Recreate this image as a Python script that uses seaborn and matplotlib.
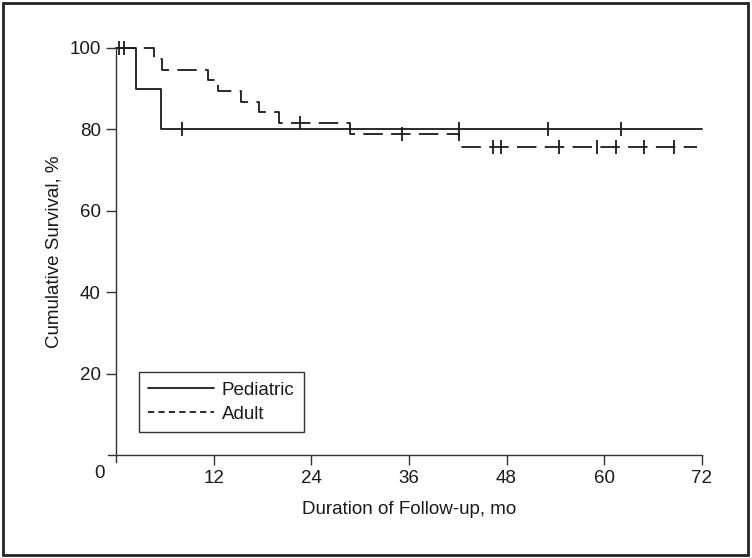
import numpy as np
import pandas as pd
import seaborn as sns
import matplotlib.pyplot as plt
from matplotlib.lines import Line2D
from matplotlib.patches import Rectangle

# step curves (time in months, survival in %)
ped_time = [0, 2.5, 5.5, 72]
ped_surv = [100, 90, 80, 80]
ped_cens = [8.1, 42.1, 53.1, 62.1]

adult_time = [0, 4.7, 5.7, 11.3, 12.5, 15.4, 17.6, 20.0, 28.7, 42.1, 71.4]
adult_surv = [100, 97.4, 94.7, 92.1, 89.5, 86.8, 84.2, 81.6, 78.9, 75.8, 75.8]
adult_cens = [0.4, 1.0, 22.6, 35.2, 46.4, 47.3, 54.5, 59.1, 61.5, 64.9, 68.6]

x_ticks = [12, 24, 36, 48, 60, 72]
y_ticks = [20, 40, 60, 80, 100]


def surv_at(times, survs, t):
    i = np.searchsorted(times, t, side='right') - 1
    return np.asarray(survs)[i]


df_ped = pd.DataFrame({'time': ped_time, 'surv': ped_surv})
df_adult = pd.DataFrame({'time': adult_time, 'surv': adult_surv})
df_ped_c = pd.DataFrame({'time': ped_cens, 'surv': surv_at(ped_time, ped_surv, ped_cens)})
df_adult_c = pd.DataFrame({'time': adult_cens, 'surv': surv_at(adult_time, adult_surv, adult_cens)})

sns.set_theme(style="white")
plt.rcParams['font.family'] = ['Liberation Sans', 'DejaVu Sans']
plt.rcParams['lines.scale_dashes'] = False

fig = plt.figure(figsize=(7.52, 5.58), dpi=100)
ax = fig.add_axes([0.1436, 0.172, 0.7895, 0.742])

lw = 1.3
ink = '#1a1a1a'
sns.lineplot(data=df_ped, x='time', y='surv', ax=ax, color=ink, lw=lw,
             drawstyle='steps-post', estimator=None, sort=False, clip_on=False)
sns.lineplot(data=df_adult, x='time', y='surv', ax=ax, color=ink, lw=lw,
             drawstyle='steps-post', estimator=None, sort=False, clip_on=False,
             dashes=False, linestyle=(0, (14, 6)))

# censor marks
for d in (df_ped_c, df_adult_c):
    sns.scatterplot(data=d, x='time', y='surv', ax=ax, marker='|', s=110,
                    color=ink, linewidth=1.3, clip_on=False, zorder=5)

ax.set_xlim(-1, 72)
ax.set_ylim(-1.7, 100)
for s in ('top', 'right'):
    ax.spines[s].set_visible(False)
ax.spines['left'].set_position(('data', 0))
ax.spines['bottom'].set_position(('data', 0))
for s in ('left', 'bottom'):
    ax.spines[s].set_color('#333333')
    ax.spines[s].set_linewidth(1.0)

fs = 13.5
ax.set_xticks(x_ticks)
ax.set_yticks(y_ticks)
ax.tick_params(axis='both', direction='out', length=7, width=1.0, color='#333333',
               labelsize=fs, labelcolor=ink, pad=4, bottom=True, left=True)
ax.text(-2.1, -4.6, '0', ha='center', va='center', fontsize=fs, color=ink)

ax.set_xlabel('')
ax.set_ylabel('')
fig.text(409 / 752, 1 - 509 / 558, 'Duration of Follow-up, mo', ha='center', va='center',
         fontsize=fs, color=ink)
fig.text(54 / 752, 1 - 252 / 558, 'Cumulative Survival, %', ha='center', va='center',
         rotation=90, fontsize=fs, color=ink)

handles = [Line2D([], [], color=ink, lw=1.3),
           Line2D([], [], color=ink, lw=1.3, linestyle=(0, (4.5, 3)))]
leg = ax.legend(handles, ['Pediatric', 'Adult'], loc='lower left',
                bbox_to_anchor=((139 - 108) / 593.7, (462 - 432) / 414, 0, 0),
                fontsize=fs, frameon=True, fancybox=False, framealpha=1,
                edgecolor='#333333', handlelength=3.5, handletextpad=0.4,
                borderpad=0.5, labelspacing=0.35, borderaxespad=0)
leg._legend_box.sep = 0
leg.get_frame().set_linewidth(1.0)
for t in leg.get_texts():
    t.set_color(ink)

fig.patches.append(Rectangle((3 / 752, 3 / 558), 745 / 752, 552 / 558,
                             transform=fig.transFigure, fill=False,
                             edgecolor='#222222', lw=2))

fig.savefig('out.png', dpi=100)
